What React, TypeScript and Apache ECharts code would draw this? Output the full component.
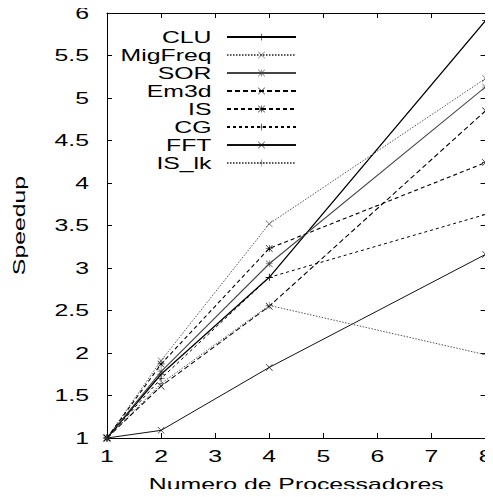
import React, { useEffect, useRef } from "react";
import * as echarts from "echarts";

// Processor counts on the x axis
const processors = [1, 2, 4, 8];

// Speedup per application
const clu = [1, 1.75, 2.89, 5.91];
const migFreq = [1, 1.91, 3.52, 5.23];
const sor = [1, 1.78, 3.05, 5.13];
const em3d = [1, 1.61, 2.55, 4.85];
const isSort = [1, 1.87, 3.23, 4.24];
const cg = [1, 1.7, 2.89, 3.63];
const fft = [1, 1.09, 1.83, 3.16];
const isLk = [1, 1.64, 2.56, 1.98];

const xTicks = [1, 2, 3, 4, 5, 6, 7, 8];

const FONT = "Liberation Sans, Arial, Helvetica, sans-serif";
// Horizontal stretch applied to every label (wide PostScript-style lettering)
const TEXT_STRETCH = 1.55;

// Point markers drawn as thin filled outlines in a 10x10 box
const PLUS = "path://M4.6,0 L5.4,0 L5.4,4.6 L10,4.6 L10,5.4 L5.4,5.4 L5.4,10 L4.6,10 L4.6,5.4 L0,5.4 L0,4.6 L4.6,4.6 Z";
const CROSS = "path://M0,0.6 L0.6,0 L5,4.4 L9.4,0 L10,0.6 L5.6,5 L10,9.4 L9.4,10 L5,5.6 L0.6,10 L0,9.4 L4.4,5 Z";
const STAR =
  "path://M4.6,0 L5.4,0 L5.4,4.6 L10,4.6 L10,5.4 L5.4,5.4 L5.4,10 L4.6,10 L4.6,5.4 L0,5.4 L0,4.6 L4.6,4.6 Z " +
  "M0,0.6 L0.6,0 L5,4.4 L9.4,0 L10,0.6 L5.6,5 L10,9.4 L9.4,10 L5,5.6 L0.6,10 L0,9.4 L4.4,5 Z";

type Spec = {
  name: string;
  values: number[];
  symbol: string;
  color: string;
  width: number;
  dash: number[] | "solid";
};

const specs: Spec[] = [
  { name: "CLU", values: clu, symbol: PLUS, color: "#000", width: 1.3, dash: "solid" },
  { name: "MigFreq", values: migFreq, symbol: CROSS, color: "#555", width: 1, dash: [1.5, 1.5] },
  { name: "SOR", values: sor, symbol: STAR, color: "#444", width: 1.1, dash: "solid" },
  { name: "Em3d", values: em3d, symbol: CROSS, color: "#000", width: 1.1, dash: [5, 3] },
  { name: "IS", values: isSort, symbol: STAR, color: "#000", width: 1.1, dash: [4, 3] },
  { name: "CG", values: cg, symbol: PLUS, color: "#000", width: 1, dash: [3, 3] },
  { name: "FFT", values: fft, symbol: CROSS, color: "#111", width: 1, dash: "solid" },
  { name: "IS_lk", values: isLk, symbol: PLUS, color: "#555", width: 1, dash: [1.5, 1.5] },
];

// Widen every rendered label around its own anchor point
function stretchTexts(chart: echarts.ECharts, k: number) {
  const zr: any = chart.getZr();
  const done = new Set<any>();
  const list: any[] = zr.storage.getDisplayList(true);
  list.forEach((el) => {
    const host = el && el.type === "tspan" ? el.parent : el && el.type === "text" ? el : null;
    if (host && !done.has(host)) {
      done.add(host);
      host.attr({ scaleX: k });
    }
  });
  zr.refreshImmediately();
}

export default function App() {
  const ref = useRef<HTMLDivElement>(null);

  useEffect(() => {
    if (!ref.current) return;
    const chart = echarts.init(ref.current, undefined, { renderer: "svg" });

    const axisLine = { show: true, lineStyle: { color: "#000", width: 1 } };
    const tick = { show: true, inside: true, length: 5, lineStyle: { color: "#000" } };
    const label = { fontFamily: FONT, fontSize: 16, color: "#000" };

    chart.setOption({
      animation: false,
      backgroundColor: "#fff",
      grid: { left: 107, right: 6, top: 13, bottom: 55 },
      legend: {
        data: specs.map((s) => s.name),
        orient: "vertical",
        align: "right",
        right: 196,
        top: 29,
        padding: 0,
        itemWidth: 69,
        itemHeight: 9,
        itemGap: 2,
        textStyle: { ...label, lineHeight: 15, padding: [0, 5, 0, 0] },
      },
      xAxis: [
        {
          type: "value",
          min: 1,
          max: 8,
          interval: 1,
          name: "Numero de Processadores",
          nameLocation: "middle",
          nameGap: 38,
          nameTextStyle: label,
          axisLine,
          axisTick: tick,
          axisLabel: {
            ...label,
            margin: 10,
            formatter: (v: number) => (xTicks.includes(v) ? String(v) : ""),
          },
          splitLine: { show: false },
        },
        {
          type: "value",
          position: "top",
          min: 1,
          max: 8,
          interval: 1,
          axisLine,
          axisTick: tick,
          axisLabel: { show: false },
          splitLine: { show: false },
        },
      ],
      yAxis: [
        {
          type: "value",
          min: 1,
          max: 6,
          interval: 0.5,
          name: "Speedup",
          nameLocation: "middle",
          nameGap: 80,
          nameRotate: 90,
          nameTextStyle: label,
          axisLine,
          axisTick: tick,
          axisLabel: { ...label, margin: 18 },
          splitLine: { show: false },
        },
        {
          type: "value",
          position: "right",
          min: 1,
          max: 6,
          interval: 0.5,
          axisLine,
          axisTick: tick,
          axisLabel: { show: false },
          splitLine: { show: false },
        },
      ],
      series: specs.map((s) => ({
        name: s.name,
        type: "line",
        xAxisIndex: 0,
        yAxisIndex: 0,
        data: processors.map((p, i) => [p, s.values[i]]),
        symbol: s.symbol,
        symbolSize: 7,
        showSymbol: true,
        itemStyle: { color: s.color },
        lineStyle: { color: s.color, width: s.width, type: s.dash },
        emphasis: { disabled: true },
      })),
    });

    stretchTexts(chart, TEXT_STRETCH);

    return () => chart.dispose();
  }, []);

  return <div ref={ref} style={{ width: 493, height: 497, margin: -8 }} />;
}
